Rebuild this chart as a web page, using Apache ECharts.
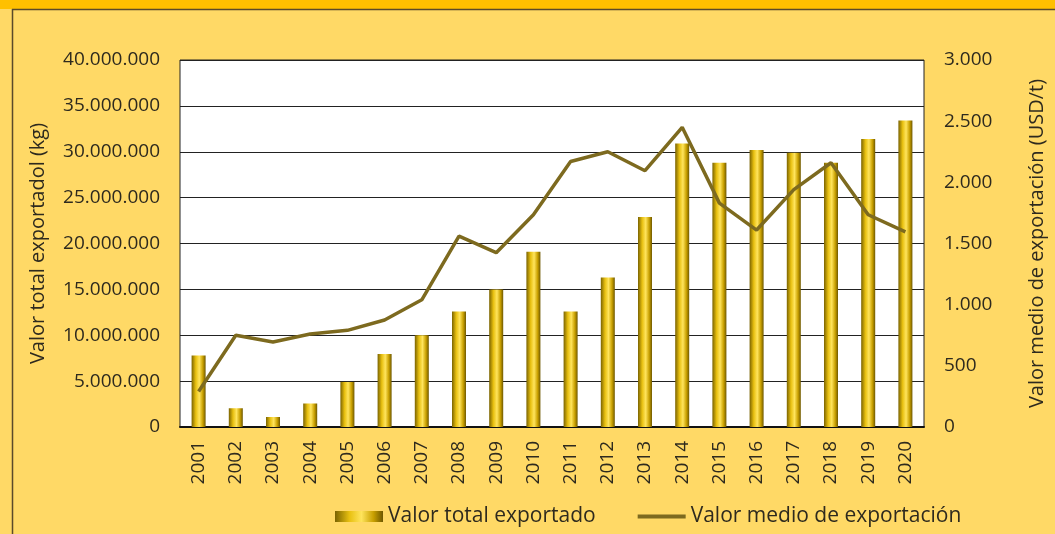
<!DOCTYPE html>
<html>
<head>
<meta charset="utf-8">
<script src="https://cdn.jsdelivr.net/npm/echarts@6/dist/echarts.min.js"></script>
<style>
  html, body { margin: 0; padding: 0; background: #FFD966; }
  #chart { width: 1055px; height: 534px; }
</style>
</head>
<body>
<div id="chart"></div>
<script>
// datos
var years = ['2001','2002','2003','2004','2005','2006','2007','2008','2009','2010',
             '2011','2012','2013','2014','2015','2016','2017','2018','2019','2020'];
var totalExportado = [7800000, 2050000, 1100000, 2550000, 4900000, 7950000, 10000000, 12600000, 15000000, 19100000,
                      12600000, 16300000, 22900000, 30900000, 28800000, 30200000, 29900000, 28800000, 31400000, 33400000];
var medioExportacion = [290, 750, 695, 760, 790, 875, 1040, 1560, 1425, 1735,
                        2170, 2250, 2095, 2450, 1830, 1610, 1940, 2160, 1735, 1595];

var font = 'Open Sans';
var txt = '#2e2a1e';

function fmtMiles(v) {
  return String(v).replace(/\B(?=(\d{3})+(?!\d))/g, '.');
}

var barColor = new echarts.graphic.LinearGradient(0, 0, 1, 0, [
  { offset: 0, color: '#7a6300' },
  { offset: 0.3, color: '#e8c010' },
  { offset: 0.55, color: '#ffe45c' },
  { offset: 0.8, color: '#c9a000' },
  { offset: 1, color: '#6e5800' }
]);

var myChart = echarts.init(document.getElementById('chart'));
var option = {
  backgroundColor: '#FFD966',
  textStyle: { fontFamily: font, color: txt },
  graphic: [
    { type: 'rect', shape: { x: 0, y: 0, width: 1055, height: 9 }, style: { fill: '#FFC000' }, silent: true },
    { type: 'line', shape: { x1: 12, y1: 9.5, x2: 1055, y2: 9.5 }, style: { stroke: '#5a4a2a', lineWidth: 1.5 }, silent: true },
    { type: 'line', shape: { x1: 12.5, y1: 9, x2: 12.5, y2: 534 }, style: { stroke: '#5a4a2a', lineWidth: 1.5 }, silent: true }
  ],
  grid: {
    left: 180, right: 130, top: 60, bottom: 107,
    show: true, backgroundColor: '#ffffff', borderColor: '#222', borderWidth: 1
  },
  legend: {
    bottom: 2,
    left: 330,
    itemGap: 42,
    itemWidth: 48,
    itemHeight: 11,
    textStyle: { fontFamily: font, fontSize: 21, color: txt },
    data: [
      { name: 'Valor total exportado', icon: 'rect' },
      { name: 'Valor medio de exportación', icon: 'path://M0,0 L48,0 L48,4 L0,4 Z' }
    ]
  },
  xAxis: {
    type: 'category',
    data: years,
    axisLine: { lineStyle: { color: '#111', width: 2 } },
    axisTick: { show: false },
    axisLabel: { rotate: 90, fontSize: 19, color: txt, fontFamily: font, margin: 14 }
  },
  yAxis: [
    {
      type: 'value',
      min: 0, max: 40000000, interval: 5000000,
      name: 'Valor total exportadol (kg)',
      nameLocation: 'middle',
      nameGap: 132,
      nameTextStyle: { fontSize: 20, color: txt, fontFamily: font },
      axisLine: { show: false },
      axisTick: { show: false },
      splitLine: { lineStyle: { color: '#222', width: 1 } },
      axisLabel: { fontSize: 19, color: txt, margin: 20, formatter: fmtMiles }
    },
    {
      type: 'value',
      min: 0, max: 3000, interval: 500,
      name: 'Valor medio de exportación (USD/t)',
      nameLocation: 'middle',
      nameGap: 103,
      nameRotate: 90,
      nameTextStyle: { fontSize: 20, color: txt, fontFamily: font },
      axisLine: { show: false },
      axisTick: { show: false },
      splitLine: { show: false },
      axisLabel: { fontSize: 19, color: txt, margin: 20, formatter: fmtMiles }
    }
  ],
  series: [
    {
      name: 'Valor total exportado',
      type: 'bar',
      data: totalExportado,
      barWidth: 14,
      itemStyle: { color: barColor }
    },
    {
      name: 'Valor medio de exportación',
      type: 'line',
      yAxisIndex: 1,
      data: medioExportacion,
      symbol: 'none',
      lineStyle: { color: '#7d6a1f', width: 3.5 },
      itemStyle: { color: '#7d6a1f' },
      z: 5
    }
  ]
};
myChart.setOption(option);
</script>
</body>
</html>
